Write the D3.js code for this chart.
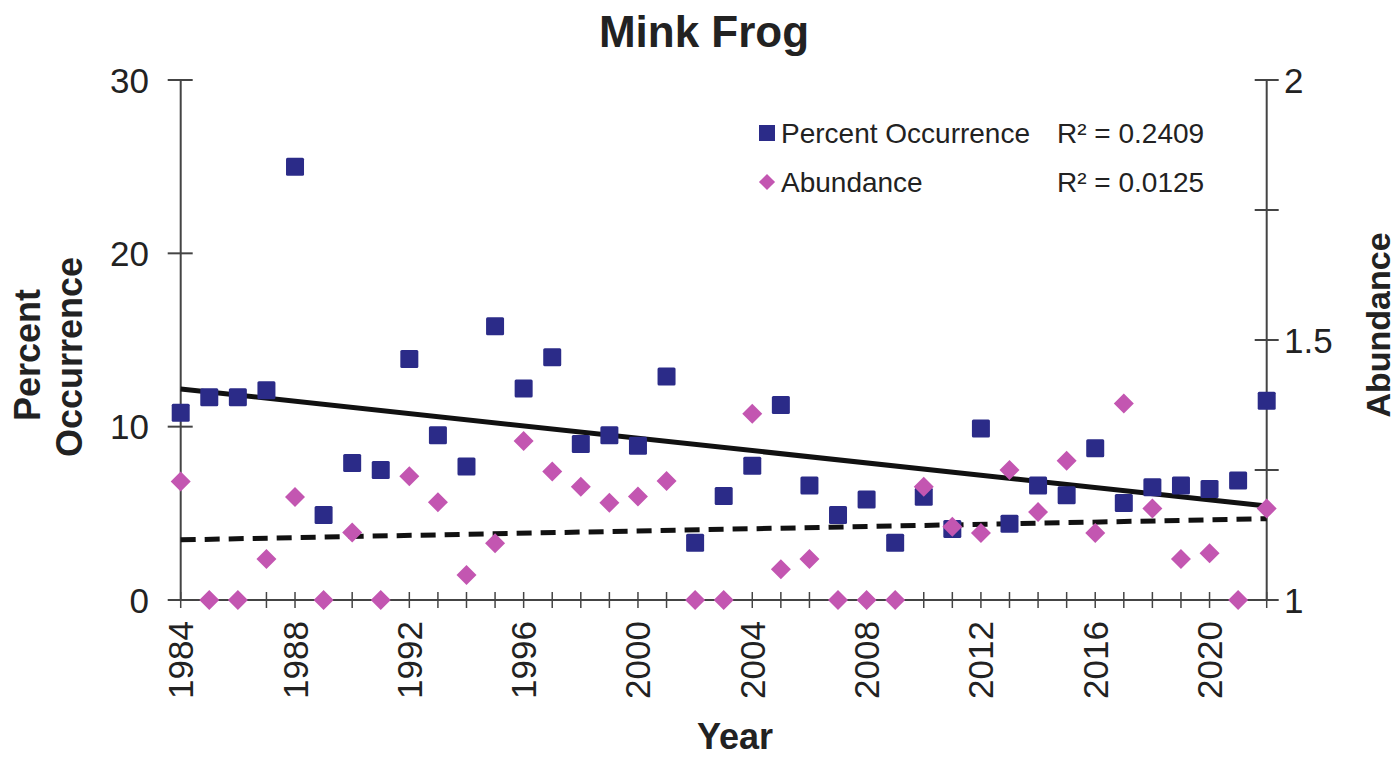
<!DOCTYPE html>
<html>
<head>
<meta charset="utf-8">
<script src="https://cdn.jsdelivr.net/npm/d3@7"></script>
<style>
  body { margin: 0; background: #fff; }
  text { font-family: "Liberation Sans", Arial, sans-serif; fill: #222; }
</style>
</head>
<body>
<div id="chart"></div>
<script>
// data
var years = [1984,1985,1986,1987,1988,1989,1990,1991,1992,1993,1994,1995,1996,1997,1998,1999,2000,2001,2002,2003,
             2004,2005,2006,2007,2008,2009,2010,2011,2012,2013,2014,2015,2016,2017,2018,2019,2020,2021,2022];
var percentOccurrence = [10.8,11.7,11.7,12.1,25.0,4.9,7.9,7.5,13.9,9.5,7.7,15.8,12.2,14.0,9.0,9.5,8.9,12.9,3.3,6.0,
             7.75,11.25,6.6,4.9,5.8,3.3,5.95,4.1,9.9,4.4,6.6,6.05,8.75,5.6,6.5,6.6,6.4,6.9,11.5];
var abundance = [1.228,1.0,1.0,1.079,1.198,1.0,1.130,1.0,1.238,1.188,1.048,1.109,1.306,1.247,1.218,1.187,1.199,1.229,1.0,1.0,
             1.358,1.059,1.079,1.0,1.0,1.0,1.218,1.141,1.129,1.25,1.169,1.268,1.129,1.378,1.176,1.079,1.090,1.0,1.176];
var leftTicks = [0, 10, 20, 30];
var rightTicks = [1, 1.25, 1.5, 1.75, 2];
var rightLabels = [1, 1.5, 2];
var xLabelYears = [1984,1988,1992,1996,2000,2004,2008,2012,2016,2020];
var legendItems = [{name: "Percent Occurrence", r2: "R² = 0.2409", shape: "square"},
                   {name: "Abundance", r2: "R² = 0.0125", shape: "diamond"}];

var svgWidth = 1397, svgHeight = 759;
var squareColor = "#2b2b88";
var diamondColor = "#c356b1";
var axisColor = "#444";

var svg = d3.select("#chart").append("svg")
    .attr("width", svgWidth)
    .attr("height", svgHeight);

var x = d3.scaleLinear().domain([1984, 2022]).range([180.7, 1266.7]);
var yLeft = d3.scaleLinear().domain([0, 30]).range([600, 80]);
var yRight = d3.scaleLinear().domain([1, 2]).range([600, 80]);

// least squares fit for the trend lines
function fit(xs, ys) {
    var mx = d3.mean(xs), my = d3.mean(ys);
    var sxy = 0, sxx = 0;
    xs.forEach(function(v, i){ sxy += (v - mx) * (ys[i] - my); sxx += (v - mx) * (v - mx); });
    var b = sxy / sxx;
    return function(v){ return my + b * (v - mx); };
}
var fitPct = fit(years, percentOccurrence);
var fitAb = fit(years, abundance);

// axes
var xAxis = svg.append("g").attr("transform", "translate(0," + yLeft(0) + ")");
xAxis.append("line")
    .attr("x1", x(1984)).attr("x2", x(2022))
    .attr("stroke", axisColor).attr("stroke-width", 2);
xAxis.selectAll("line.tick")
    .data(years)
    .enter().append("line")
        .attr("class", "tick")
        .attr("x1", function(d){ return x(d); }).attr("x2", function(d){ return x(d); })
        .attr("y1", -8).attr("y2", 8)
        .attr("stroke", axisColor).attr("stroke-width", 1.5);
xAxis.selectAll("text")
    .data(xLabelYears)
    .enter().append("text")
        .text(function(d){ return d; })
        .attr("transform", function(d){ return "translate(" + (x(d) + 12.5) + ",21) rotate(-90)"; })
        .attr("text-anchor", "end")
        .style("font-size", "35px");

var leftAxis = svg.append("g");
leftAxis.append("line")
    .attr("x1", x(1984)).attr("x2", x(1984))
    .attr("y1", yLeft(0)).attr("y2", yLeft(30))
    .attr("stroke", axisColor).attr("stroke-width", 2);
leftAxis.selectAll("line.tick")
    .data(leftTicks)
    .enter().append("line")
        .attr("class", "tick")
        .attr("x1", x(1984) - 13).attr("x2", x(1984) + 12)
        .attr("y1", function(d){ return yLeft(d); }).attr("y2", function(d){ return yLeft(d); })
        .attr("stroke", axisColor).attr("stroke-width", 2);
leftAxis.selectAll("text")
    .data(leftTicks)
    .enter().append("text")
        .text(function(d){ return d; })
        .attr("x", 149).attr("y", function(d){ return yLeft(d) + 12.5; })
        .attr("text-anchor", "end")
        .style("font-size", "35px");

var rightAxis = svg.append("g");
rightAxis.append("line")
    .attr("x1", x(2022)).attr("x2", x(2022))
    .attr("y1", yRight(1)).attr("y2", yRight(2))
    .attr("stroke", axisColor).attr("stroke-width", 2);
rightAxis.selectAll("line.tick")
    .data(rightTicks)
    .enter().append("line")
        .attr("class", "tick")
        .attr("x1", x(2022) - 12).attr("x2", x(2022) + 12)
        .attr("y1", function(d){ return yRight(d); }).attr("y2", function(d){ return yRight(d); })
        .attr("stroke", axisColor).attr("stroke-width", 2);
rightAxis.selectAll("text")
    .data(rightLabels)
    .enter().append("text")
        .text(function(d){ return d; })
        .attr("x", 1284).attr("y", function(d){ return yRight(d) + 12.5; })
        .style("font-size", "35px");

// trend lines
var line = d3.line().x(function(d){ return d.x; }).y(function(d){ return d.y; });
svg.append("path")
    .attr("fill", "none").attr("stroke", "#111").attr("stroke-width", 5)
    .attr("d", line([{x: x(1984), y: yLeft(fitPct(1984))}, {x: x(2022), y: yLeft(fitPct(2022))}]));
svg.append("path")
    .attr("fill", "none").attr("stroke", "#111").attr("stroke-width", 5)
    .attr("stroke-dasharray", "15,9")
    .attr("d", line([{x: x(1984), y: yRight(fitAb(1984))}, {x: x(2022), y: yRight(fitAb(2022))}]));

// points
svg.append("g").selectAll("rect")
    .data(years)
    .enter().append("rect")
        .attr("x", function(d){ return x(d) - 9; })
        .attr("y", function(d, i){ return yLeft(percentOccurrence[i]) - 9; })
        .attr("width", 18).attr("height", 18).attr("rx", 1.5)
        .attr("fill", squareColor);

var diamond = d3.symbol().type(d3.symbolSquare).size(200);
svg.append("g").selectAll("path")
    .data(years)
    .enter().append("path")
        .attr("d", diamond)
        .attr("transform", function(d, i){ return "translate(" + x(d) + "," + yRight(abundance[i]) + ") rotate(45)"; })
        .attr("fill", diamondColor);

// legend
var legend = svg.append("g");
legendItems.forEach(function(item, i){
    var ly = 133 + i * 49;
    if (item.shape == "square") {
        legend.append("rect")
            .attr("x", 759).attr("y", ly - 8).attr("width", 16).attr("height", 16)
            .attr("fill", squareColor);
    } else {
        legend.append("path")
            .attr("d", d3.symbol().type(d3.symbolSquare).size(130))
            .attr("transform", "translate(767," + ly + ") rotate(45)")
            .attr("fill", diamondColor);
    }
    legend.append("text").text(item.name)
        .attr("x", 781).attr("y", ly + 10)
        .style("font-size", "28px");
    legend.append("text").text(item.r2)
        .attr("x", 1057).attr("y", ly + 10)
        .style("font-size", "28px");
});

// titles
svg.append("text").text("Mink Frog")
    .attr("x", 704).attr("y", 47)
    .attr("text-anchor", "middle")
    .style("font-size", "44px").style("font-weight", "bold");
svg.append("text").text("Year")
    .attr("x", 735).attr("y", 749)
    .attr("text-anchor", "middle")
    .style("font-size", "36px").style("font-weight", "bold");
svg.append("text").text("Percent")
    .attr("transform", "translate(40,355) rotate(-90)")
    .attr("text-anchor", "middle")
    .style("font-size", "36px").style("font-weight", "bold");
svg.append("text").text("Occurrence")
    .attr("transform", "translate(82,357) rotate(-90)")
    .attr("text-anchor", "middle")
    .style("font-size", "36px").style("font-weight", "bold");
svg.append("text").text("Abundance")
    .attr("transform", "translate(1390,325) rotate(-90)")
    .attr("text-anchor", "middle")
    .style("font-size", "34px").style("font-weight", "bold");
</script>
</body>
</html>
